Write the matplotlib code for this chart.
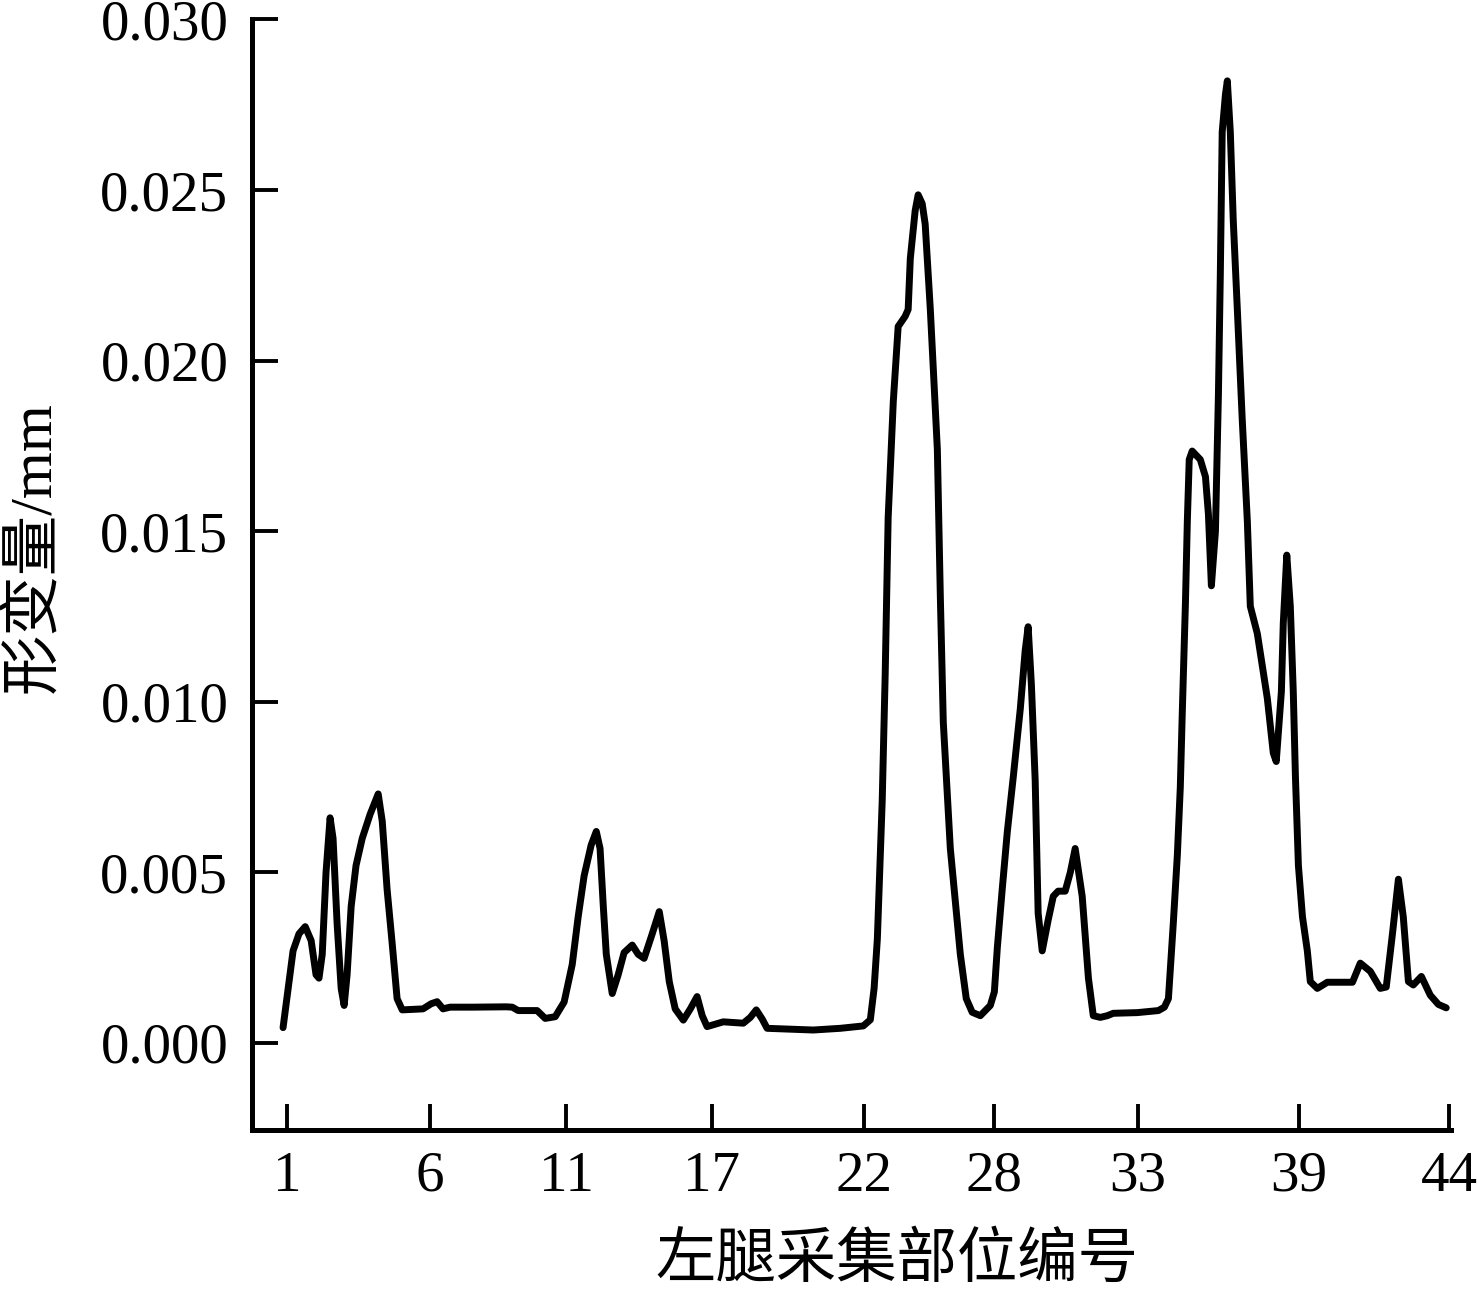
import matplotlib
matplotlib.use("Agg")
import matplotlib.pyplot as plt
from matplotlib.ticker import FormatStrFormatter

# traced curve: position along the left leg (site number) and deformation in mm
site = [0.85, 1.04, 1.22, 1.44, 1.67, 1.89, 2.07, 2.18, 2.30, 2.44,
        2.59, 2.70, 2.85, 3.00, 3.11, 3.22, 3.37, 3.55, 3.78, 4.07,
        4.37, 4.52, 4.70, 4.89, 5.07, 5.26, 6.03, 6.33, 6.55, 6.77,
        7.03, 7.88, 9.11, 9.33, 9.55, 10.25, 10.55, 10.92, 11.25, 11.55,
        11.77, 11.99, 12.25, 12.44, 12.58, 12.70, 12.81, 13.03, 13.25, 13.47,
        13.77, 13.99, 14.21, 14.51, 14.77, 14.95, 15.14, 15.36, 15.66, 15.92,
        16.17, 16.36, 16.54, 17.14, 17.88, 18.14, 18.36, 18.58, 18.76, 20.47,
        21.47, 22.32, 22.58, 22.72, 22.84, 23.02, 23.13, 23.24, 23.43, 23.61,
        23.87, 23.98, 24.06, 24.24, 24.35, 24.50, 24.61, 24.80, 25.06, 25.17,
        25.28, 25.54, 25.91, 26.13, 26.35, 26.65, 27.02, 27.17, 27.28, 27.46,
        27.65, 27.87, 28.13, 28.31, 28.42, 28.54, 28.68, 28.79, 28.94, 29.16,
        29.35, 29.53, 29.79, 29.98, 30.16, 30.31, 30.42, 30.65, 30.83, 31.09,
        31.35, 31.57, 32.46, 33.24, 33.46, 33.61, 33.79, 33.94, 34.05, 34.12,
        34.24, 34.31, 34.38, 34.49, 34.79, 34.98, 35.09, 35.20, 35.35, 35.46,
        35.53, 35.60, 35.72, 35.79, 35.90, 36.01, 36.16, 36.34, 36.53, 36.64,
        36.90, 37.27, 37.49, 37.60, 37.79, 37.86, 37.99, 38.12, 38.23, 38.31,
        38.42, 38.57, 38.75, 38.86, 39.12, 39.49, 40.42, 40.71, 41.08, 41.45,
        41.67, 41.90, 42.12, 42.30, 42.49, 42.67, 42.97, 43.30, 43.60, 43.89]

deform = [0.00045, 0.0016, 0.0027, 0.0032, 0.00341, 0.0030, 0.0020, 0.0019, 0.0026, 0.0050,
          0.0066, 0.0060, 0.0035, 0.0016, 0.0011, 0.0020, 0.0040, 0.0052, 0.0060, 0.0067,
          0.0073, 0.0065, 0.0045, 0.0029, 0.0013, 0.00097, 0.0010, 0.00115, 0.00121, 0.0010,
          0.00105, 0.00105, 0.00106, 0.00105, 0.00095, 0.00095, 0.00072, 0.00077, 0.0012, 0.0023,
          0.0037, 0.0049, 0.0058, 0.0062, 0.0057, 0.0040, 0.0026, 0.00145, 0.0020, 0.00265,
          0.00287, 0.0026, 0.00248, 0.0032, 0.00385, 0.0030, 0.0018, 0.0010, 0.00067, 0.0010,
          0.00136, 0.0008, 0.00048, 0.00062, 0.00058, 0.00075, 0.00097, 0.0007, 0.00043, 0.00038,
          0.00043, 0.0005, 0.00068, 0.0016, 0.00305, 0.0071, 0.0108, 0.0154, 0.0188, 0.0210,
          0.0213, 0.0215, 0.0230, 0.0244, 0.02486, 0.0246, 0.0240, 0.0215, 0.0174, 0.0131,
          0.0094, 0.0057, 0.0026, 0.0013, 0.0009, 0.0008, 0.0011, 0.0015, 0.0028, 0.0045,
          0.0062, 0.0078, 0.0098, 0.0115, 0.0122, 0.0105, 0.0077, 0.0038, 0.0027, 0.0036,
          0.0043, 0.00445, 0.00445, 0.0050, 0.0057, 0.0049, 0.0043, 0.0019, 0.0008, 0.00075,
          0.0008, 0.00087, 0.00089, 0.00095, 0.00105, 0.0013, 0.0035, 0.0055, 0.0075, 0.0096,
          0.0129, 0.0153, 0.0171, 0.01735, 0.0171, 0.0166, 0.0155, 0.0134, 0.0150, 0.0190,
          0.0225, 0.0267, 0.0278, 0.0282, 0.0267, 0.0241, 0.0215, 0.0183, 0.0153, 0.0128,
          0.0120, 0.0101, 0.0085, 0.00825, 0.0103, 0.0123, 0.0143, 0.0128, 0.0103, 0.0078,
          0.0052, 0.0037, 0.0027, 0.0018, 0.0016, 0.00178, 0.00178, 0.00234, 0.0021, 0.0016,
          0.00164, 0.0032, 0.0048, 0.0037, 0.0018, 0.0017, 0.00195, 0.0014, 0.00113, 0.00103]

# tick marks sit where the original draws them
tick_pos = [1, 6.27, 11.32, 16.72, 22.35, 27.14, 32.49, 38.44, 44]
tick_labels = ["1", "6", "11", "17", "22", "28", "33", "39", "44"]
y_ticks = [0.000, 0.005, 0.010, 0.015, 0.020, 0.025, 0.030]

plt.rcParams['font.family'] = ['Liberation Serif', 'Noto Sans CJK SC']

fig = plt.figure(figsize=(14.77, 12.96), dpi=100)
ax = fig.add_axes([0.1706, 0.1281, 0.8115, 0.8569])

ax.plot(site, deform, color='black', linewidth=5.0,
        solid_joinstyle='round', solid_capstyle='round')

ax.set_xlim(-0.30, 44.05)
ax.set_ylim(-0.00255, 0.0300)
ax.set_xticks(tick_pos)
ax.set_xticklabels(tick_labels)
ax.set_yticks(y_ticks)
ax.yaxis.set_major_formatter(FormatStrFormatter('%.3f'))

ax.spines['top'].set_visible(False)
ax.spines['right'].set_visible(False)
for s in ['left', 'bottom']:
    ax.spines[s].set_linewidth(3.6)

ax.tick_params(direction='in', length=19, width=2.8, labelsize=41, colors='black')
ax.tick_params(axis='x', pad=15)
ax.tick_params(axis='y', pad=17)

ax.set_xlabel('左腿采集部位编号', fontsize=43.5)
ax.set_ylabel('形变量/mm', fontsize=43.5)
ax.xaxis.set_label_coords(0.538, -0.093)
ax.yaxis.set_label_coords(-0.157, 0.525)

fig.savefig('out.png', dpi=100)
